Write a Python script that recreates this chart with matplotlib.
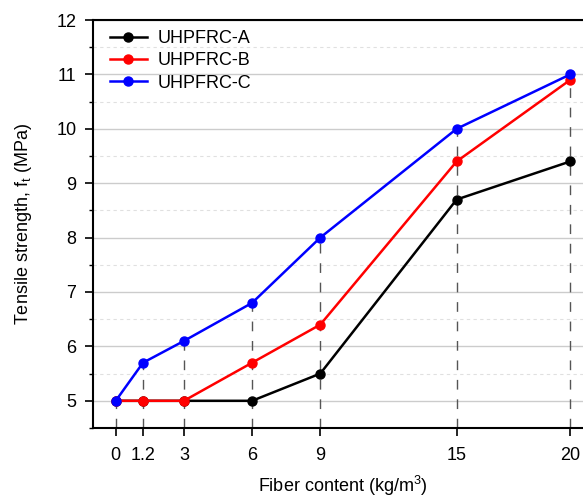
import matplotlib
matplotlib.use('Agg')
import matplotlib.pyplot as plt
from matplotlib.ticker import MultipleLocator

plt.rcParams['font.family'] = ['Liberation Sans', 'DejaVu Sans']
plt.rcParams['mathtext.default'] = 'regular'

# 纤维掺量 (kg/m3) 与抗拉强度 (MPa)
fiber = [0, 1.2, 3, 6, 9, 15, 20]
tick_lbl = ['0', '1.2', '3', '6', '9', '15', '20']
uhpfrc_a = [5, 5, 5, 5, 5.5, 8.7, 9.4]
uhpfrc_b = [5, 5, 5, 5.7, 6.4, 9.4, 10.9]
uhpfrc_c = [5, 5.7, 6.1, 6.8, 8, 10, 11]

fig = plt.figure(figsize=(5.83, 4.98), dpi=100)
ax = fig.add_axes([93/583, 70/498, 500/583, 408/498])

# 竖向虚线
tops = [max(a, b, c) for a, b, c in zip(uhpfrc_a, uhpfrc_b, uhpfrc_c)]
ax.vlines(fiber, 4.5, tops, colors='#555555', linestyles=(0, (7, 7)), linewidth=1, zorder=1)

ax.plot(fiber, uhpfrc_a, 'o-', color='black', lw=1.8, ms=6.5, label='UHPFRC-A', zorder=3)
ax.plot(fiber, uhpfrc_b, 'o-', color='red', lw=1.8, ms=6.5, label='UHPFRC-B', zorder=3)
ax.plot(fiber, uhpfrc_c, 'o-', color='blue', lw=1.8, ms=6.5, label='UHPFRC-C', zorder=3)

ax.set_xlim(-1, 21)
ax.set_ylim(4.5, 12)
ax.set_xticks(fiber)
ax.set_xticklabels(tick_lbl)
ax.yaxis.set_major_locator(MultipleLocator(1))
ax.yaxis.set_minor_locator(MultipleLocator(0.5))
ax.grid(True, which='major', axis='y', color='#cccccc', lw=1)
ax.grid(True, which='minor', axis='y', color='#e0e0e0', lw=0.8, ls=(0, (3, 3)))
ax.set_axisbelow(True)
ax.tick_params(which='major', direction='out', length=6, width=1.2, labelsize=13)
ax.tick_params(axis='x', which='major', pad=8)
ax.tick_params(axis='y', which='major', pad=6)
ax.tick_params(which='minor', direction='out', length=3, width=1)
for s in ['left', 'bottom', 'top']:
    ax.spines[s].set_linewidth(1.5)
ax.spines['right'].set_visible(False)

ax.set_xlabel('Fiber content (kg/m$^3$)', fontsize=13, labelpad=7)
ax.set_ylabel('Tensile strength, f$_t$ (MPa)', fontsize=13, labelpad=16)
ax.legend(loc='upper left', bbox_to_anchor=(0.015, 1.0), frameon=False, fontsize=13,
          handlelength=2.0, borderaxespad=0.2, borderpad=0.35, labelspacing=0.3,
          handletextpad=0.6)

fig.savefig('out.png', dpi=100)
